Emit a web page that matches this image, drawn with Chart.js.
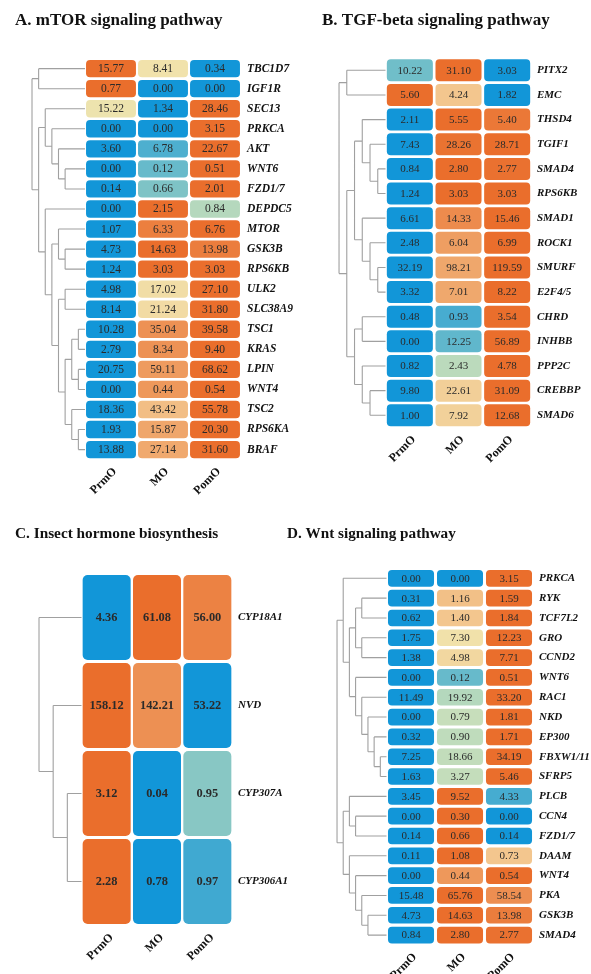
<!DOCTYPE html>
<html>
<head>
<meta charset="utf-8">
<script src="https://cdn.jsdelivr.net/npm/chart.js@4.4.1/dist/chart.umd.min.js"></script>
<style>
  html, body { margin: 0; padding: 0; background: #ffffff; }
  body { width: 591px; height: 974px; position: relative; overflow: hidden; }
  canvas { position: absolute; display: block; }
</style>
</head>
<body>
<canvas id="chartA" width="295" height="505" style="left:0;top:0"></canvas>
<canvas id="chartB" width="296" height="505" style="left:295px;top:0"></canvas>
<canvas id="chartC" width="295" height="464" style="left:0;top:510px"></canvas>
<canvas id="chartD" width="311" height="464" style="left:280px;top:510px"></canvas>
<script>
// Sample columns shared by every heatmap
const columns = ['PrmO', 'MO', 'PomO'];

// A. mTOR signaling pathway
const mtorGenes = ['TBC1D7', 'IGF1R', 'SEC13', 'PRKCA', 'AKT', 'WNT6', 'FZD1/7', 'DEPDC5', 'MTOR', 'GSK3B',
  'RPS6KB', 'ULK2', 'SLC38A9', 'TSC1', 'KRAS', 'LPIN', 'WNT4', 'TSC2', 'RPS6KA', 'BRAF'];
const mtorPrmO = [15.77, 0.77, 15.22, 0.00, 3.60, 0.00, 0.14, 0.00, 1.07, 4.73, 1.24, 4.98, 8.14, 10.28, 2.79, 20.75, 0.00, 18.36, 1.93, 13.88];
const mtorMO   = [8.41, 0.00, 1.34, 0.00, 6.78, 0.12, 0.66, 2.15, 6.33, 14.63, 3.03, 17.02, 21.24, 35.04, 8.34, 59.11, 0.44, 43.42, 15.87, 27.14];
const mtorPomO = [0.34, 0.00, 28.46, 3.15, 22.67, 0.51, 2.01, 0.84, 6.76, 13.98, 3.03, 27.10, 31.80, 39.58, 9.40, 68.62, 0.54, 55.78, 20.30, 31.60];
const mtorTree = [['TBC1D7', 'IGF1R'],
  [['SEC13', ['PRKCA', ['AKT', ['WNT6', 'FZD1/7']]]],
   ['DEPDC5', [['MTOR', ['GSK3B', 'RPS6KB']],
               [['ULK2', 'SLC38A9'],
                [[['TSC1', 'KRAS'], ['LPIN', 'WNT4']], ['TSC2', ['RPS6KA', 'BRAF']]]]]]]];

// B. TGF-beta signaling pathway
const tgfGenes = ['PITX2', 'EMC', 'THSD4', 'TGIF1', 'SMAD4', 'RPS6KB', 'SMAD1', 'ROCK1', 'SMURF', 'E2F4/5',
  'CHRD', 'INHBB', 'PPP2C', 'CREBBP', 'SMAD6'];
const tgfPrmO = [10.22, 5.60, 2.11, 7.43, 0.84, 1.24, 6.61, 2.48, 32.19, 3.32, 0.48, 0.00, 0.82, 9.80, 1.00];
const tgfMO   = [31.10, 4.24, 5.55, 28.26, 2.80, 3.03, 14.33, 6.04, 98.21, 7.01, 0.93, 12.25, 2.43, 22.61, 7.92];
const tgfPomO = [3.03, 1.82, 5.40, 28.71, 2.77, 3.03, 15.46, 6.99, 119.59, 8.22, 3.54, 56.89, 4.78, 31.09, 12.68];
const tgfTree = [['PITX2', 'EMC'],
  [[['THSD4', ['TGIF1', ['SMAD4', 'RPS6KB']]], ['SMAD1', ['ROCK1', ['SMURF', 'E2F4/5']]]],
   [['CHRD', 'INHBB'], ['PPP2C', ['CREBBP', 'SMAD6']]]]];

// C. Insect hormone biosynthesis
const hormoneGenes = ['CYP18A1', 'NVD', 'CYP307A', 'CYP306A1'];
const hormonePrmO = [4.36, 158.12, 3.12, 2.28];
const hormoneMO   = [61.08, 142.21, 0.04, 0.78];
const hormonePomO = [56.00, 53.22, 0.95, 0.97];
const hormoneTree = ['CYP18A1', ['NVD', ['CYP307A', 'CYP306A1']]];

// D. Wnt signaling pathway
const wntGenes = ['PRKCA', 'RYK', 'TCF7L2', 'GRO', 'CCND2', 'WNT6', 'RAC1', 'NKD', 'EP300', 'FBXW1/11',
  'SFRP5', 'PLCB', 'CCN4', 'FZD1/7', 'DAAM', 'WNT4', 'PKA', 'GSK3B', 'SMAD4'];
const wntPrmO = [0.00, 0.31, 0.62, 1.75, 1.38, 0.00, 11.49, 0.00, 0.32, 7.25, 1.63, 3.45, 0.00, 0.14, 0.11, 0.00, 15.48, 4.73, 0.84];
const wntMO   = [0.00, 1.16, 1.40, 7.30, 4.98, 0.12, 19.92, 0.79, 0.90, 18.66, 3.27, 9.52, 0.30, 0.66, 1.08, 0.44, 65.76, 14.63, 2.80];
const wntPomO = [3.15, 1.59, 1.84, 12.23, 7.71, 0.51, 33.20, 1.81, 1.71, 34.19, 5.46, 4.33, 0.00, 0.14, 0.73, 0.54, 58.54, 13.98, 2.77];
const wntTree = [['PRKCA', [[['RYK', 'TCF7L2'], ['GRO', 'CCND2']],
                            ['WNT6', ['RAC1', ['NKD', ['EP300', ['FBXW1/11', 'SFRP5']]]]]]],
                 [['PLCB', ['CCN4', 'FZD1/7']], ['DAAM', ['WNT4', ['PKA', ['GSK3B', 'SMAD4']]]]]];

const SERIF = "'Liberation Serif', 'Times New Roman', serif";

// Row-scaled colour ramp: low = blue, middle = pale yellow, high = orange
const ramp = [
  [0.00, [18, 150, 216]],
  [0.25, [108, 188, 202]],
  [0.33, [158, 208, 192]],
  [0.45, [204, 224, 186]],
  [0.52, [241, 227, 172]],
  [0.64, [243, 198, 142]],
  [0.80, [238, 155, 95]],
  [1.00, [234, 110, 44]]
];
function rampColour(t) {
  for (let k = 1; k < ramp.length; k++) {
    if (t <= ramp[k][0] + 1e-9) {
      const [t0, c0] = ramp[k - 1];
      const [t1, c1] = ramp[k];
      const f = (t - t0) / (t1 - t0);
      return 'rgb(' + c0.map((c, j) => Math.round(c + (c1[j] - c) * f)).join(',') + ')';
    }
  }
  return 'rgb(' + ramp[ramp.length - 1][1].join(',') + ')';
}
function cellColour(row, c) {
  const lo = Math.min(...row), hi = Math.max(...row);
  const t = hi > lo ? (row[c] - lo) / (hi - lo) : 0.5;
  return rampColour(t);
}

// Row dendrogram, drawn as an aligned cladogram left of the cells
function dendrogramPlugin(tree, span) {
  const height = n => Array.isArray(n) ? 1 + Math.max(height(n[0]), height(n[1])) : 0;
  return {
    id: 'dendrogram',
    beforeDatasetsDraw(chart) {
      const xs = chart.scales.x, ys = chart.scales.y, ctx = chart.ctx;
      const step = span / height(tree);
      const leafX = xs.getPixelForValue(0);
      const walk = (node, depth) => {
        if (!Array.isArray(node)) return { x: leafX, y: ys.getPixelForValue(ys.parse(node)) };
        const x = xs.getPixelForValue(-span + depth * step);
        const kids = node.map(k => walk(k, depth + 1));
        ctx.moveTo(x, kids[0].y);
        ctx.lineTo(x, kids[1].y);
        kids.forEach(k => { ctx.moveTo(x, k.y); ctx.lineTo(k.x, k.y); });
        return { x, y: (kids[0].y + kids[1].y) / 2 };
      };
      ctx.save();
      ctx.beginPath();
      walk(tree, 0);
      ctx.strokeStyle = '#a0a0a0';
      ctx.lineWidth = 1.1;
      ctx.stroke();
      ctx.restore();
    }
  };
}

// Value printed in the middle of each cell
function cellTextPlugin(series, font) {
  return {
    id: 'cellText',
    afterDatasetsDraw(chart) {
      const ctx = chart.ctx;
      ctx.save();
      ctx.font = font;
      ctx.fillStyle = '#2a2a2a';
      ctx.textAlign = 'center';
      ctx.textBaseline = 'middle';
      series.forEach((vals, c) => {
        chart.getDatasetMeta(c).data.forEach((bar, i) => {
          ctx.fillText(vals[i].toFixed(2), (bar.x + bar.base) / 2, bar.y + 0.5);
        });
      });
      ctx.restore();
    }
  };
}

function heatmap(id, title, genes, series, tree, g) {
  const rows = genes.map((_, i) => series.map(s => s[i]));
  const halfTitle = g.titleSize * 0.6;
  return new Chart(document.getElementById(id), {
    type: 'bar',
    data: {
      labels: genes,
      datasets: series.map((vals, c) => ({
        label: columns[c],
        data: vals.map(() => [c + g.gap, c + 1 - g.gap]),
        backgroundColor: ctx => cellColour(rows[ctx.dataIndex], c),
        borderRadius: g.radius,
        borderSkipped: false,
        borderWidth: 0,
        grouped: false,
        barPercentage: g.bar,
        categoryPercentage: 1
      }))
    },
    options: {
      responsive: false,
      animation: false,
      indexAxis: 'y',
      layout: { padding: { left: g.left, right: 0, top: 0, bottom: 0 } },
      plugins: {
        legend: { display: false },
        tooltip: { enabled: false },
        title: {
          display: true,
          text: title,
          align: 'start',
          color: '#111111',
          font: { family: SERIF, size: g.titleSize, weight: 'bold', lineHeight: 1.2 },
          padding: { top: g.titleY - halfTitle, bottom: g.top - g.titleY - halfTitle }
        }
      },
      scales: {
        x: {
          type: 'linear',
          min: g.xMin,
          max: 3,
          grid: { display: false, drawTicks: false },
          border: { display: false },
          afterBuildTicks: s => { s.ticks = columns.map((_, i) => ({ value: i + 0.5 })); },
          afterFit: s => { s.height = g.xAxisH; },
          ticks: {
            autoSkip: false,
            minRotation: 45,
            maxRotation: 45,
            padding: g.colPad,
            labelOffset: g.colShift,
            color: '#111111',
            font: { family: SERIF, size: 12, weight: 'bold' },
            callback: (v, i) => columns[i]
          }
        },
        y: {
          type: 'category',
          position: 'right',
          grid: { display: false, drawTicks: false },
          border: { display: false },
          afterFit: s => { s.width = g.yAxisW; },
          ticks: {
            padding: g.labelPad,
            color: '#111111',
            font: { family: SERIF, size: g.geneSize, style: 'italic', weight: 'bold' }
          }
        }
      }
    },
    plugins: [dendrogramPlugin(tree, g.span), cellTextPlugin(series, g.valueFont)]
  });
}

heatmap('chartA', 'A. mTOR signaling pathway', mtorGenes, [mtorPrmO, mtorMO, mtorPomO], mtorTree, {
  left: 15, xMin: -1.346, span: 1.019, gap: 0.02, bar: 0.863, radius: 4,
  titleSize: 17, titleY: 21, top: 58.6, xAxisH: 45.4, yAxisW: 54, labelPad: 6,
  geneSize: 11.5, colPad: 5, colShift: 4, valueFont: "11.5px " + SERIF
});

heatmap('chartB', 'B. TGF-beta signaling pathway', tgfGenes, [tgfPrmO, tgfMO, tgfPomO], tgfTree, {
  left: 27, xMin: -1.305, span: 0.955, gap: 0.027, bar: 0.893, radius: 4,
  titleSize: 17, titleY: 21, top: 58, xAxisH: 77.4, yAxisW: 59.5, labelPad: 5.5,
  geneSize: 11, colPad: 5, colShift: 4, valueFont: "11px " + SERIF
});

heatmap('chartC', 'C. Insect hormone biosynthesis', hormoneGenes, [hormonePrmO, hormoneMO, hormonePomO], hormoneTree, {
  left: 15, xMin: -1.321, span: 0.844, gap: 0.023, bar: 0.966, radius: 5,
  titleSize: 15.3, titleY: 24, top: 63.5, xAxisH: 48.5, yAxisW: 62.5, labelPad: 5.5,
  geneSize: 11, colPad: 5, colShift: 5, valueFont: "bold 12.4px " + SERIF
});

heatmap('chartD', 'D. Wnt signaling pathway', wntGenes, [wntPrmO, wntMO, wntPomO], wntTree, {
  left: 7, xMin: -2.031, span: 1.01, gap: 0.03, bar: 0.84, radius: 4,
  titleSize: 15.2, titleY: 24, top: 58.4, xAxisH: 29, yAxisW: 57.5, labelPad: 5.5,
  geneSize: 11, colPad: 5, colShift: 4, valueFont: "11px " + SERIF
});
</script>
</body>
</html>
